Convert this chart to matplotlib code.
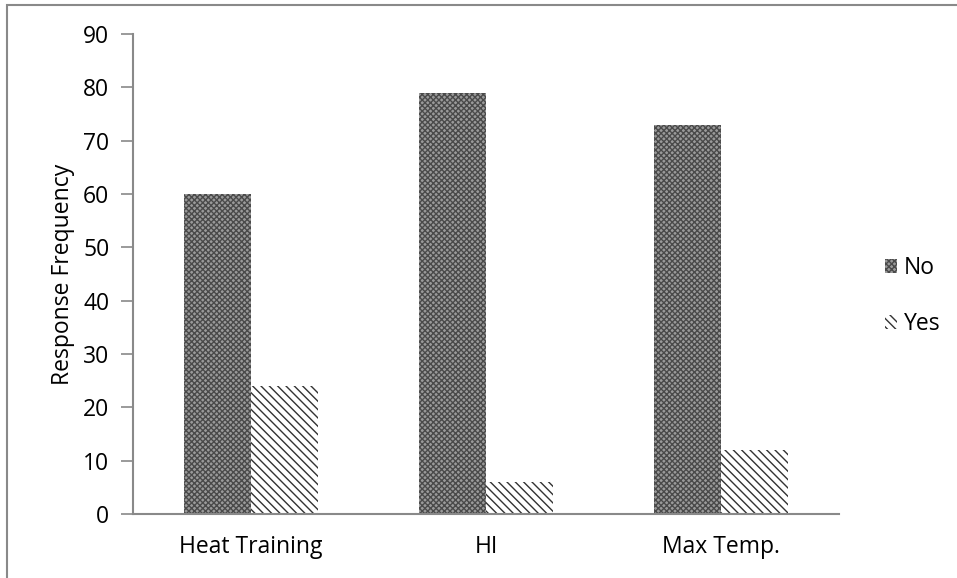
import matplotlib
matplotlib.use("Agg")
import matplotlib.pyplot as plt
import numpy as np
from matplotlib.patches import Rectangle

categories = ["Heat Training", "HI", "Max Temp."]
no_values = [60, 79, 73]
yes_values = [24, 6, 12]
yticks = [0, 10, 20, 30, 40, 50, 60, 70, 80, 90]

plt.rcParams['font.family'] = ['Open Sans', 'DejaVu Sans']
plt.rcParams['hatch.linewidth'] = 1.0

W, H = 957, 578
fs = 16.5
fig = plt.figure(figsize=(W/100, H/100), dpi=100)
ax = fig.add_axes([133/W, 1-514/H, (839-133)/W, (514-34)/H])

x = np.arange(len(categories))
bw = 0.285
b1 = ax.bar(x - bw/2, no_values, bw, facecolor='#9a9a9a', edgecolor='#4a4a4a',
            hatch='xxxxxx', linewidth=0, label='No')
b2 = ax.bar(x + bw/2, yes_values, bw, facecolor='white', edgecolor='#333333',
            hatch='\\\\\\\\', linewidth=0, label='Yes')

ax.set_xlim(-0.5, 2.5)
ax.set_ylim(0, 90)
ax.set_yticks(yticks)
ax.set_xticks(x)
ax.set_xticklabels(categories, fontsize=fs)
ax.tick_params(axis='x', length=0, pad=15)
ax.tick_params(axis='y', length=9, width=1.2, color='#898989', labelsize=fs, pad=8)
for s in ['top', 'right']:
    ax.spines[s].set_visible(False)
for s in ['left', 'bottom']:
    ax.spines[s].set_color('#898989')
    ax.spines[s].set_linewidth(1.5)
ax.set_ylabel("Response Frequency", fontsize=fs, labelpad=6)

fig.legend(handles=[b1, b2], labels=['No', 'Yes'], loc='center left',
           bbox_to_anchor=(864/W, 1-296/H), frameon=False, fontsize=fs,
           handlelength=0.55, handleheight=0.55, handletextpad=0.3,
           labelspacing=1.4)

fig.patches.append(Rectangle((7/W, -0.1), 1.2, 1-5/H+0.1, transform=fig.transFigure,
                             fill=False, edgecolor='#898989', linewidth=1.5))

fig.savefig("out.png", dpi=100)
